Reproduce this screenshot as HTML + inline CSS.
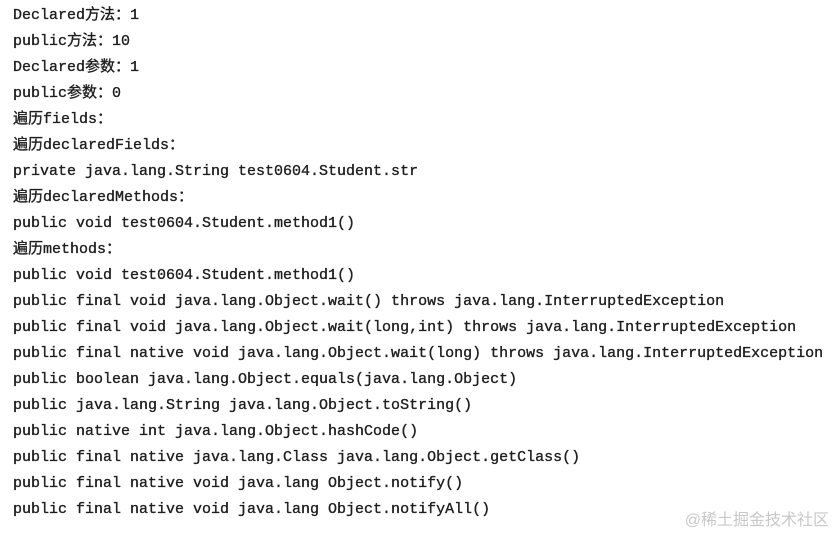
<!DOCTYPE html>
<html><head><meta charset="utf-8"><style>
html,body{margin:0;padding:0;background:#fff;width:835px;height:534px;overflow:hidden}
pre{position:absolute;left:13px;top:3px;margin:0;font-family:"Liberation Mono","Noto Sans CJK SC",monospace;font-size:15px;line-height:26px;color:#1e1e1e;font-weight:normal;-webkit-text-stroke:0.35px #1e1e1e}
.wm{position:absolute;right:6px;top:506px;font-family:"Liberation Sans","Noto Sans CJK SC",sans-serif;font-size:16px;color:#c8c8c8}
</style></head><body>
<pre>Declared方法：1
public方法：10
Declared参数：1
public参数：0
遍历fields：
遍历declaredFields：
private java.lang.String test0604.Student.str
遍历declaredMethods：
public void test0604.Student.method1()
遍历methods：
public void test0604.Student.method1()
public final void java.lang.Object.wait() throws java.lang.InterruptedException
public final void java.lang.Object.wait(long,int) throws java.lang.InterruptedException
public final native void java.lang.Object.wait(long) throws java.lang.InterruptedException
public boolean java.lang.Object.equals(java.lang.Object)
public java.lang.String java.lang.Object.toString()
public native int java.lang.Object.hashCode()
public final native java.lang.Class java.lang.Object.getClass()
public final native void java.lang Object.notify()
public final native void java.lang Object.notifyAll()</pre>
<div class="wm">@稀土掘金技术社区</div>
</body></html>
